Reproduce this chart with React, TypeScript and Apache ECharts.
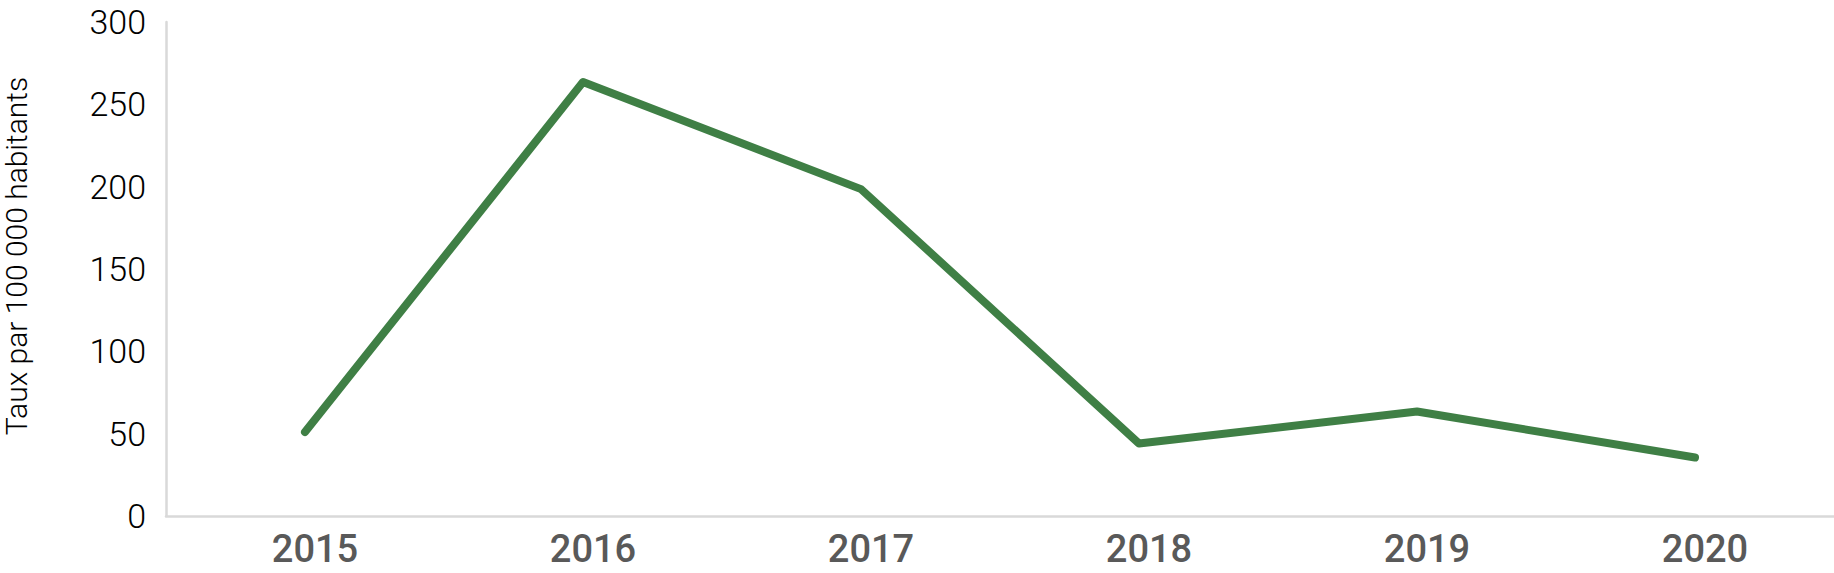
import React, { useEffect, useRef } from "react";
import * as echarts from "echarts";

const years = ["2015", "2016", "2017", "2018", "2019", "2020"];
const taux = [51, 263.5, 198.5, 44, 63.5, 35.5];
const yTicks = { min: 0, max: 300, interval: 50 };
const yTitle = "Taux par 100 000 habitants";

export default function App() {
  const ref = useRef<HTMLDivElement>(null);
  useEffect(() => {
    document.body.style.margin = "0";
    const chart = echarts.init(ref.current!, null, { renderer: "svg" });
    chart.setOption({
      animation: false,
      backgroundColor: "#ffffff",
      grid: {
        left: 166,
        right: 0,
        top: 22,
        bottom: 57,
        containLabel: false,
        outerBoundsMode: "none",
      },
      xAxis: {
        type: "category",
        data: years,
        boundaryGap: true,
        axisLine: { show: true, lineStyle: { color: "#d9d9d9", width: 2.5 } },
        axisTick: { show: false },
        axisLabel: {
          color: "#595959",
          fontFamily: "Roboto",
          fontWeight: 500,
          fontSize: 38,
          margin: 14,
          padding: [0, 0, 0, 20],
        },
        splitLine: { show: false },
      },
      yAxis: {
        type: "value",
        min: yTicks.min,
        max: yTicks.max,
        interval: yTicks.interval,
        name: yTitle,
        nameLocation: "middle",
        nameRotate: 90,
        nameGap: 135,
        nameTextStyle: {
          color: "#000000",
          fontFamily: "Roboto",
          fontWeight: 300,
          fontSize: 30,
          padding: [0, 0, 0, 26],
        },
        axisLine: { show: true, lineStyle: { color: "#d9d9d9", width: 2.5 } },
        axisTick: { show: false },
        axisLabel: {
          color: "#000000",
          fontFamily: "Roboto",
          fontWeight: 300,
          fontSize: 34,
          margin: 20,
          padding: [0, 0, 9, 0],
        },
        splitLine: { show: false },
      },
      series: [
        {
          type: "line",
          data: taux,
          showSymbol: false,
          symbol: "none",
          lineStyle: { color: "#3f7f45", width: 8, cap: "round", join: "round" },
        },
      ],
    });
    return () => chart.dispose();
  }, []);
  return <div ref={ref} style={{ position: "fixed", left: 0, top: 0, width: 1834, height: 573 }} />;
}
